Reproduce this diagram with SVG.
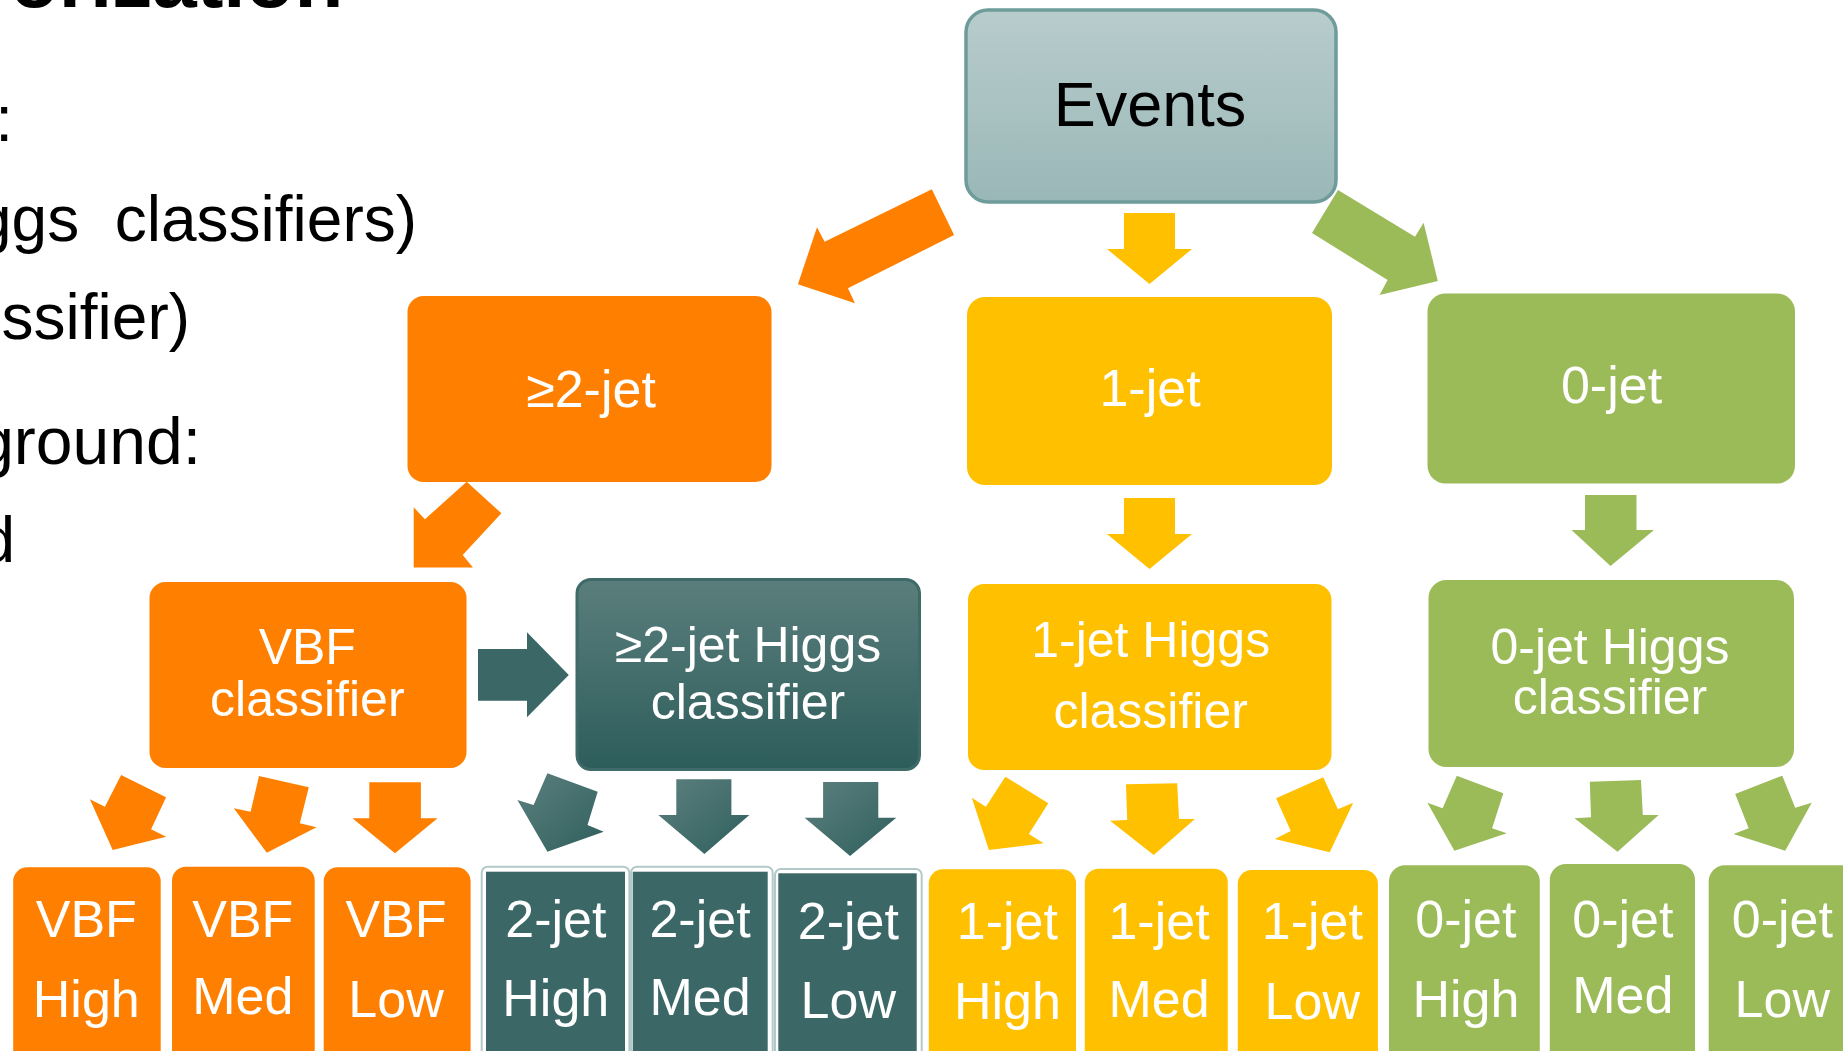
<svg xmlns="http://www.w3.org/2000/svg" width="1843" height="1051" viewBox="0 0 1843 1051">
<style>
.o{fill:#FF8000}
.y{fill:#FFC000}
.g{fill:#9BBB59}
.t{fill:#3B6767}
.ta{fill:url(#tealArrow)}
.tout{fill:#ffffff;stroke:#B3C9C9;stroke-width:2}
.lbl{font-family:"Liberation Sans",Arial,sans-serif;fill:#ffffff;text-anchor:middle}
.s52{font-size:52px}
.s50{font-size:50px}
.side{font-family:"Liberation Sans",Arial,sans-serif;fill:#000000;font-size:64px;text-anchor:end}
</style>
<defs>
<linearGradient id="evGrad" x1="0" y1="0" x2="0" y2="1">
<stop offset="0" stop-color="#B8CCCC"/>
<stop offset="1" stop-color="#9AB7B7"/>
</linearGradient>
<linearGradient id="tealGrad" x1="0" y1="0" x2="0" y2="1">
<stop offset="0" stop-color="#5A7E7C"/>
<stop offset="1" stop-color="#2D5D5B"/>
</linearGradient>
<linearGradient id="tealArrow" x1="0" y1="0" x2="1" y2="1">
<stop offset="0" stop-color="#5C807E"/>
<stop offset="1" stop-color="#2F5F5D"/>
</linearGradient>
</defs>
<rect width="1843" height="1051" fill="#ffffff"/>

<g id="side-text">
<text x="10" y="7" style="font-family:'Liberation Sans',Arial,sans-serif;font-weight:bold;font-size:80px;fill:#000">orization</text>
<text class="side" x="13" y="141">:</text>
<text class="side" x="417" y="241" xml:space="preserve">ggs  classifiers)</text>
<text class="side" x="190" y="339">ssifier)</text>
<text class="side" x="201" y="464" style="font-size:66px">ground:</text>
<text class="side" x="15" y="562">d</text>
</g>

<g id="connectors">
<polygon class="o" points="931.8,189.3 954.1,235 847.9,288.3 855,303.3 797.9,284.3 817,227.3 824.6,241.7"/>
<polygon class="y" points="1124,213 1175,213 1175,249 1192,249 1149.5,284 1107,249 1124,249"/>
<polygon class="g" points="1338,190 1415,236.7 1423.6,222.7 1437.8,281 1379.6,295 1387.6,280 1312,233"/>
<polygon class="o" points="466.7,481.7 501.4,513.3 462.7,555 472.9,567.5 413.7,567.5 413.7,507.3 424.9,519.3"/>
<polygon class="y" points="1124,498 1175,498 1175,534 1192,534 1149.5,569 1107,534 1124,534"/>
<polygon class="g" points="1585,495 1636.5,495 1636.5,530 1654,530 1610.5,566 1571.5,530 1585,530"/>
<polygon class="t" points="478,649 527,649 527,632.3 568.8,675 527,717.3 527,700.7 478,700.7"/>

<polygon class="o" points="121.1,775 166.1,797.3 151.1,829.3 166.1,836.7 112.7,850 89.9,799.3 104.9,806.7"/>
<polygon class="o" points="259,776 308.8,787.3 299.8,823.3 316.5,827.3 266.8,852.7 233.8,808.3 250.6,811.7"/>
<polygon class="o" points="369.3,782.3 420.9,782.3 420.9,818.3 437.6,818.3 395,853.3 352.5,818.3 369.3,818.3"/>
<polygon class="ta" points="547.4,773.3 597.7,791.7 587.5,825 603.7,831.7 547.4,851.7 517.4,800 533.6,805"/>
<polygon class="ta" points="676.3,779.3 731.4,779.3 731.4,815 749.4,815 704.4,854 658.3,815 676.3,815"/>
<polygon class="ta" points="823.1,782 878.3,782 878.3,817.7 896.3,817.7 850.1,856 804.6,817.7 823.1,817.7"/>
<polygon class="y" points="1005.3,776.7 1048.3,803.3 1028.9,834 1043.6,843.3 988.9,850 971.8,797.7 985.9,806.7"/>
<polygon class="y" points="1126,784.3 1177.2,783.3 1179,819 1194.9,819 1153.7,855 1110.1,820.7 1127.2,820"/>
<polygon class="y" points="1276.1,798.3 1323.2,777.3 1337.9,809.3 1353.2,802.7 1329.7,852.3 1274.9,839 1290.8,831"/>
<polygon class="g" points="1456.8,775.7 1503.3,793.3 1492.1,828.3 1506.8,833.3 1454.4,850.7 1427.4,802.7 1442.6,808.3"/>
<polygon class="g" points="1589.8,781.7 1641,780 1642.8,815 1658.7,815 1617.5,851.7 1574.5,818.3 1591,817.3"/>
<polygon class="g" points="1735.2,794 1782.3,775.7 1795.2,807.7 1811.7,802.7 1785.2,850.7 1733.4,834 1748.7,828.3"/>
</g>

<g id="events">
<rect x="966" y="10" width="370" height="192" rx="22" fill="url(#evGrad)" stroke="#6E9C9B" stroke-width="3.5"/>
<text x="1150" y="126" style="font-family:'Liberation Sans',Arial,sans-serif;font-size:63px;fill:#000;text-anchor:middle">Events</text>
</g>

<g id="ge2jet">
<rect class="o" x="407.5" y="296" width="364" height="186" rx="16"/>
<text class="lbl s52" x="591" y="406.7">≥2-jet</text>
</g>
<g id="onejet">
<rect class="y" x="967" y="297" width="365" height="188" rx="18"/>
<text class="lbl s52" x="1150" y="406">1-jet</text>
</g>
<g id="zerojet">
<rect class="g" x="1427.5" y="293.5" width="367.5" height="190" rx="18"/>
<text class="lbl s52" x="1611.5" y="402.7">0-jet</text>
</g>

<g id="vbf-classifier">
<rect class="o" x="149.5" y="582" width="317" height="186" rx="16"/>
<text class="lbl s50" x="307.3" y="664.3">VBF</text>
<text class="lbl s50" x="307.3" y="715.7">classifier</text>
</g>
<g id="ge2jet-higgs-classifier">
<rect x="577" y="579.5" width="342.5" height="190" rx="14" fill="url(#tealGrad)" stroke="#3E6A68" stroke-width="3"/>
<text class="lbl s50" x="748" y="661.7">≥2-jet Higgs</text>
<text class="lbl s50" x="748" y="719">classifier</text>
</g>
<g id="onejet-higgs-classifier">
<rect class="y" x="968" y="584" width="363.5" height="186" rx="16"/>
<text class="lbl s50" x="1150.7" y="656.7">1-jet Higgs</text>
<text class="lbl s50" x="1150.7" y="728">classifier</text>
</g>
<g id="zerojet-higgs-classifier">
<rect class="g" x="1428.5" y="580" width="365.5" height="187" rx="18"/>
<text class="lbl s50" x="1610" y="664.3">0-jet Higgs</text>
<text class="lbl s50" x="1610" y="714">classifier</text>
</g>

<g id="vbf-high">
<rect class="o" x="13.2" y="867.3" width="147.5" height="220" rx="14"/>
<text class="lbl s52" x="86.3" y="936.7">VBF</text>
<text class="lbl s52" x="86.3" y="1016.7">High</text>
</g>
<g id="vbf-med">
<rect class="o" x="172" y="866.7" width="142.7" height="220" rx="14"/>
<text class="lbl s52" x="242.8" y="936.7">VBF</text>
<text class="lbl s52" x="242.8" y="1014">Med</text>
</g>
<g id="vbf-low">
<rect class="o" x="323.7" y="867.3" width="146.9" height="220" rx="14"/>
<text class="lbl s52" x="396" y="936.7">VBF</text>
<text class="lbl s52" x="396" y="1017">Low</text>
</g>

<g id="twojet-high">
<rect class="tout" x="481.7" y="866.7" width="147.6" height="220" rx="6"/>
<rect class="t" x="486" y="871.7" width="139" height="220"/>
<text class="lbl s52" x="555.8" y="936.7">2-jet</text>
<text class="lbl s52" x="555.8" y="1016">High</text>
</g>
<g id="twojet-med">
<rect class="tout" x="631" y="866.7" width="141.7" height="220" rx="6"/>
<rect class="t" x="632.7" y="871.7" width="135" height="220"/>
<text class="lbl s52" x="700" y="936.7">2-jet</text>
<text class="lbl s52" x="700" y="1015">Med</text>
</g>
<g id="twojet-low">
<rect class="tout" x="775" y="869" width="146.7" height="220" rx="6"/>
<rect class="t" x="778.3" y="873.3" width="138.4" height="220"/>
<text class="lbl s52" x="848.3" y="939.3">2-jet</text>
<text class="lbl s52" x="848.3" y="1018.3">Low</text>
</g>

<g id="onejet-high">
<rect class="y" x="928.8" y="869.3" width="147.2" height="220" rx="14"/>
<text class="lbl s52" x="1007.4" y="939.3">1-jet</text>
<text class="lbl s52" x="1007.4" y="1019.3">High</text>
</g>
<g id="onejet-med">
<rect class="y" x="1084.8" y="868.7" width="143" height="220" rx="14"/>
<text class="lbl s52" x="1159" y="939.3">1-jet</text>
<text class="lbl s52" x="1159" y="1016.7">Med</text>
</g>
<g id="onejet-low">
<rect class="y" x="1237.8" y="870" width="140.1" height="220" rx="14"/>
<text class="lbl s52" x="1312.3" y="939.3">1-jet</text>
<text class="lbl s52" x="1312.3" y="1019.3">Low</text>
</g>

<g id="zerojet-high">
<rect class="g" x="1389" y="865.3" width="150.8" height="220" rx="16"/>
<text class="lbl s52" x="1465.9" y="936.7">0-jet</text>
<text class="lbl s52" x="1465.9" y="1016.7">High</text>
</g>
<g id="zerojet-med">
<rect class="g" x="1549.8" y="864" width="145.2" height="220" rx="16"/>
<text class="lbl s52" x="1622.8" y="936.7">0-jet</text>
<text class="lbl s52" x="1622.8" y="1013.3">Med</text>
</g>
<g id="zerojet-low">
<rect class="g" x="1708.7" y="865.3" width="160" height="220" rx="16"/>
<text class="lbl s52" x="1782.3" y="936.7">0-jet</text>
<text class="lbl s52" x="1782.3" y="1016.7">Low</text>
</g>
</svg>
